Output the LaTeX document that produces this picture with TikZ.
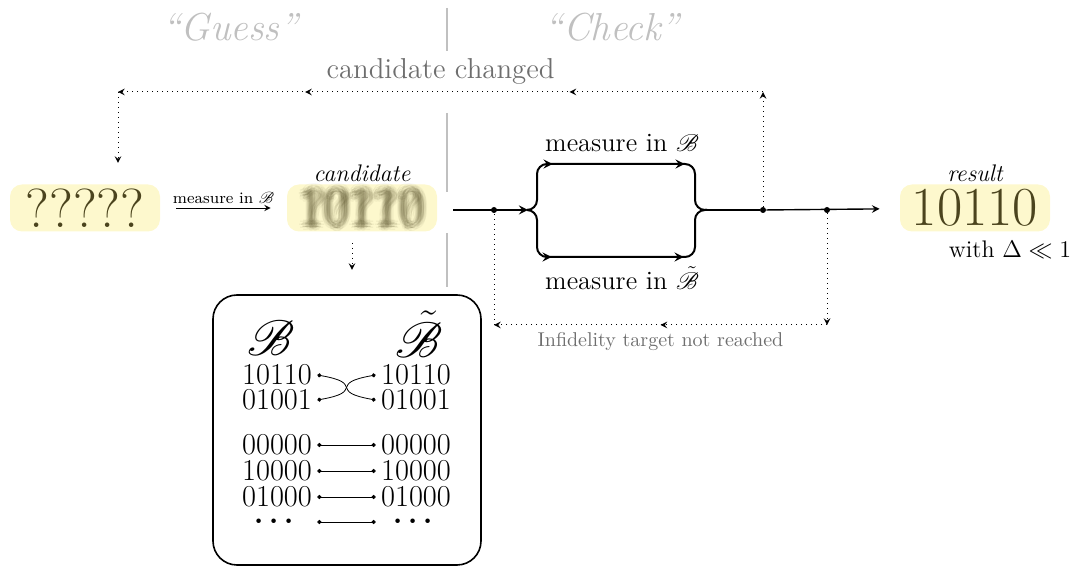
\documentclass[tikz,border=0pt]{standalone}
\usepackage{amsmath, amssymb}
\usepackage{mathrsfs}
\usepackage{xcolor}
\usepackage{tikz}
\usetikzlibrary{calc, positioning, arrows.meta, decorations.markings}
\definecolor{hlfill}{RGB}{253,248,205}
\definecolor{bitcol}{RGB}{75,68,30}
\definecolor{phasecol}{RGB}{192,192,192}
\definecolor{notecol}{RGB}{110,110,110}
\tikzset{
  bits/.style={fill=hlfill, rounded corners=6pt, text=bitcol, font=\fontsize{27.5}{30}\selectfont, minimum width=75pt, minimum height=23.5pt, inner sep=0pt},
  blurbits/.style={text=bitcol, font=\fontsize{27.5}{30}\selectfont, text opacity=#1, inner sep=0pt},
  phase/.style={text=phasecol, font=\fontsize{19.5}{23}\selectfont\itshape},
  sepline/.style={draw=phasecol, line width=0.6pt},
  tag/.style={font=\large\itshape, inner sep=1pt},
  lbl/.style={font=\fontsize{13.2}{16}\selectfont},
  note/.style={text=notecol},
  flow/.style={line width=1pt},
  fb/.style={dotted, line width=0.5pt},
  dot/.style={circle, fill, inner sep=0pt, minimum size=3pt},
  row/.style={font=\fontsize{15.2}{17}\selectfont, inner sep=1pt, minimum width=40pt},
  basis/.style={font=\fontsize{31}{34}\selectfont},
  link/.style={{Circle[length=2pt]}-{Circle[length=2pt]}, line width=0.4pt},
  tipat/.style={postaction={decorate}, decoration={markings, mark=at position #1 with {\arrow{stealth}}}},
  branchtips/.style={postaction={decorate}, decoration={markings,
      mark=at position 32pt with {\arrow{stealth}},
      mark=at position 98pt with {\arrow{stealth}}}},
  backtips/.style={postaction={decorate}, decoration={markings,
      mark=at position 0.3 with {\arrow{stealth}},
      mark=at position 0.71 with {\arrow{stealth}}}},
}

\begin{document}
\begin{tikzpicture}[x=0.5pt, y=-0.5pt, >=stealth]
    \useasboundingbox (0,0) rectangle (1078,566);

    % the two phases
    \node[phase] (guess) at (230,27) {``Guess''};
    \node[phase] (check) at (612,27) {``Check''};
    \draw[sepline] (447,8) -- (447,51);
    \draw[sepline] (447,113) -- (447,192);
    \draw[sepline] (447,233) -- (447,287);

    % guess
    \node[bits] (unk) at (85,208) {?????};
    \node[bits] (cand) at (362,208) {\phantom{10110}};
    \foreach \rr/\oo [count=\k] in {2/0.1, 4.5/0.06} {
        \foreach \a in {0,45,...,315} {
            \node[blurbits=\oo] (bd\k-\a) at ($(cand)+(\a:\rr)$) {10110};
            \node[blurbits=0.8*\oo] (bq\k-\a) at ($(cand)+(\a+22:\rr+0.5)$) {?????};
        }
    }
    \node[tag, above=0pt of cand] (candlbl) {candidate};
    \draw[->, shorten <=8pt, shorten >=8pt] (unk) -- node[above, font=\footnotesize, inner sep=2pt] (m0) {measure in $\mathscr{B}$} (cand);

    % feedback: candidate changed
    \coordinate (tr) at (763,92);
    \coordinate (tl) at (118,92);
    \coordinate (dl) at (118,163);

    % check
    \coordinate (in) at (453,210);
    \coordinate (fork) at (528,210);
    \coordinate (join) at (707,210);
    \node[dot] (lp) at (494,210) {};
    \node[dot] (cc) at (763,210) {};
    \node[dot] (ft) at (827,210) {};
    \node[bits] (res) at (975,208) {10110};
    \node[tag, above=0pt of res] (reslbl) {result};
    \node[font=\large] (qual) at (1010,250) {with $\Delta \ll 1$};

    \draw[flow, ->] (in) -- (fork);
    \draw[flow, rounded corners=5pt, branchtips] (fork) -| (537,164) -- (695,164) |- (join);
    \draw[flow, rounded corners=5pt, branchtips] (fork) -| (537,257) -- (695,257) |- (join);
    \draw[flow] (join) -- (cc);
    \draw[line width=0.7pt, ->, shorten >=10pt] (cc) -- (res);
    \node[lbl] (mB) at (622,143) {measure in $\mathscr{B}$};
    \node[lbl] (mBt) at (622,278) {measure in $\tilde{\mathscr{B}}$};

    \draw[fb, ->] (cc) -- (tr);
    \draw[fb, backtips, ->] (tr) -- node[above, note, font=\Large] (chg) {candidate changed} (tl);
    \draw[fb, ->] (tl) -- (dl);

    % feedback: infidelity target
    \coordinate (br) at (827,325);
    \coordinate (bl) at (494,325);
    \draw[fb, ->] (ft) -- (br);
    \draw[fb, tipat=0.5, ->] (br) -- node[below, note] (miss) {Infidelity target not reached} (bl);
    \draw[fb] (bl) -- (lp);

    % basis table
    \coordinate (candout) at (352,243);
    \coordinate (tblin) at (352,270);
    \draw[fb, ->] (candout) -- (tblin);
    \node[draw, line width=0.8pt, rounded corners=12pt, minimum width=134pt, minimum height=135pt] (tbl) at (347,430) {};
    \node[basis] (bA) at (271,338) {$\mathscr{B}$};
    \node[basis] (bB) at (419,334) {$\tilde{\mathscr{B}}$};
    \node[row] (l1) at (277,375) {10110};
    \node[row] (l2) at (277,400) {01001};
    \node[row] (l3) at (277,445) {00000};
    \node[row] (l4) at (277,471) {10000};
    \node[row] (l5) at (277,497) {01000};
    \node[row] (l6) at (277,522) {$\boldsymbol{\cdots}$};
    \node[row] (r1) at (416,375) {10110};
    \node[row] (r2) at (416,400) {01001};
    \node[row] (r3) at (416,445) {00000};
    \node[row] (r4) at (416,471) {10000};
    \node[row] (r5) at (416,497) {01000};
    \node[row] (r6) at (416,522) {$\boldsymbol{\cdots}$};
    \draw[link] (l1.east) to[out=-10, in=170, looseness=2] (r2.west);
    \draw[link] (l2.east) to[out=10, in=190, looseness=2] (r1.west);
    \foreach \i in {3,...,6}
        \draw[link] (l\i.east) -- (r\i.west);
\end{tikzpicture}
\end{document}
